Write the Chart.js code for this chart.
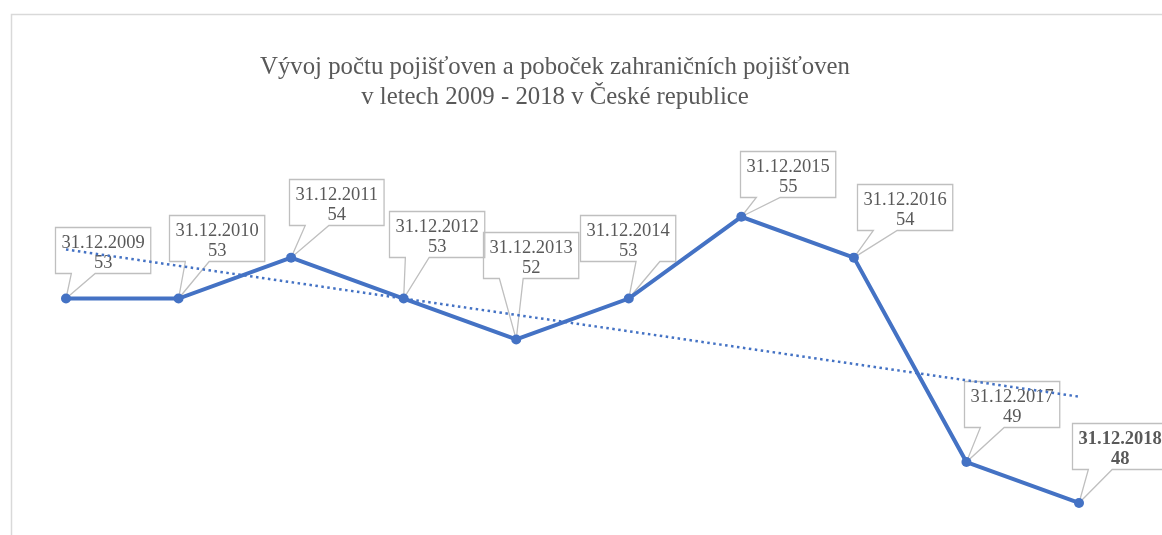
<!DOCTYPE html>
<html lang="cs">
<head>
    <meta charset="UTF-8">
    <title>Vývoj počtu pojišťoven</title>
    <script src="https://cdn.jsdelivr.net/npm/chart.js"></script>
    <style>
        html, body { margin: 0; padding: 0; background: #fff; }
        #wrap { width: 1162px; height: 535px; position: relative; }
    </style>
</head>
<body>
<div id="wrap"><canvas id="myChart" width="1162" height="535"></canvas></div>
<script>
    // data
    const categories = ['31.12.2009', '31.12.2010', '31.12.2011', '31.12.2012', '31.12.2013',
                        '31.12.2014', '31.12.2015', '31.12.2016', '31.12.2017', '31.12.2018'];
    const values = [53, 53, 54, 53, 52, 53, 55, 54, 49, 48];
    const titleLines = ['Vývoj počtu pojišťoven a poboček zahraničních pojišťoven',
                        'v letech 2009 - 2018 v České republice'];

    // callout box placement relative to its point (box left, box bottom)
    const calloutOffsets = [[-11, -26], [-10, -38], [-2, -33], [-15, -42], [-33, -61],
                            [-49, -38], [-1, -20], [3, -28], [-2, -35], [-7, -34]];

    // linear trend (least squares), like the Excel trendline
    const n = values.length;
    const mx = (n - 1) / 2;
    const my = values.reduce((a, b) => a + b, 0) / n;
    let sxy = 0, sxx = 0;
    values.forEach((v, i) => { sxy += (i - mx) * (v - my); sxx += (i - mx) * (i - mx); });
    const slope = sxy / sxx;
    const trend = values.map((v, i) => my + slope * (i - mx));

    const SERIF = '"Liberation Serif", "Times New Roman", serif';
    const TEXT = '#595959';

    const framePlugin = {
        id: 'frameAndTitle',
        beforeDraw(chart) {
            const ctx = chart.ctx;
            ctx.save();
            ctx.strokeStyle = '#d9d9d9';
            ctx.lineWidth = 1.5;
            ctx.beginPath();
            ctx.moveTo(11.5, 540);
            ctx.lineTo(11.5, 14.5);
            ctx.lineTo(1170, 14.5);
            ctx.stroke();
            ctx.fillStyle = TEXT;
            ctx.font = '24.8px ' + SERIF;
            ctx.textAlign = 'center';
            ctx.textBaseline = 'alphabetic';
            ctx.fillText(titleLines[0], 555, 74);
            ctx.fillText(titleLines[1], 555, 104);
            ctx.restore();
        }
    };

    const calloutPlugin = {
        id: 'callouts',
        beforeDatasetsDraw(chart) {
            const meta = chart.getDatasetMeta(0);
            const ctx = chart.ctx;
            ctx.save();
            meta.data.forEach((pt, i) => {
                const last = i === n - 1;
                ctx.font = (last ? 'bold ' : '') + '18.5px ' + SERIF;
                const l1 = categories[i], l2 = String(values[i]);
                const w = Math.max(ctx.measureText(l1).width, ctx.measureText(l2).width) + 12;
                const h = 46;
                const left = Math.round(pt.x + calloutOffsets[i][0]) + 0.5;
                const bottom = Math.round(pt.y + calloutOffsets[i][1]) + 0.5;
                const top = bottom - h;
                const right = left + w;
                const onRight = pt.x > left + w / 2;
                const b1 = left + w * (onRight ? 7 / 12 : 1 / 6);
                const b2 = left + w * (onRight ? 5 / 6 : 5 / 12);
                ctx.beginPath();
                ctx.moveTo(left, top);
                ctx.lineTo(right, top);
                ctx.lineTo(right, bottom);
                ctx.lineTo(b2, bottom);
                ctx.lineTo(pt.x, pt.y);
                ctx.lineTo(b1, bottom);
                ctx.lineTo(left, bottom);
                ctx.closePath();
                ctx.strokeStyle = '#bfbfbf';
                ctx.lineWidth = 1.3;
                ctx.stroke();
                ctx.fillStyle = TEXT;
                ctx.textAlign = 'center';
                ctx.textBaseline = 'alphabetic';
                ctx.fillText(l1, left + w / 2, top + 20);
                ctx.fillText(l2, left + w / 2, top + 40);
            });
            ctx.restore();
        }
    };

    const ctx = document.getElementById('myChart').getContext('2d');
    const myChart = new Chart(ctx, {
        type: 'line',
        data: {
            labels: categories,
            datasets: [{
                label: 'Počet pojišťoven',
                data: values,
                borderColor: '#4472C4',
                backgroundColor: '#4472C4',
                borderWidth: 4,
                pointRadius: 5,
                pointBorderWidth: 0,
                pointBackgroundColor: '#4472C4',
                tension: 0,
                clip: false,
                order: 0
            }, {
                label: 'Lineární trend',
                data: trend,
                borderColor: '#4472C4',
                borderWidth: 2.5,
                borderDash: [2.5, 3.5],
                pointRadius: 0,
                tension: 0,
                clip: false,
                order: 1
            }]
        },
        options: {
            responsive: false,
            animation: false,
            events: [],
            layout: { padding: { left: 66, right: 83, top: 135, bottom: 11.6 } },
            scales: {
                x: { display: false, offset: false },
                y: { display: false, min: 47.5, max: 57 }
            },
            plugins: {
                legend: { display: false },
                title: { display: false },
                tooltip: { enabled: false }
            }
        },
        plugins: [framePlugin, calloutPlugin]
    });
</script>
</body>
</html>
